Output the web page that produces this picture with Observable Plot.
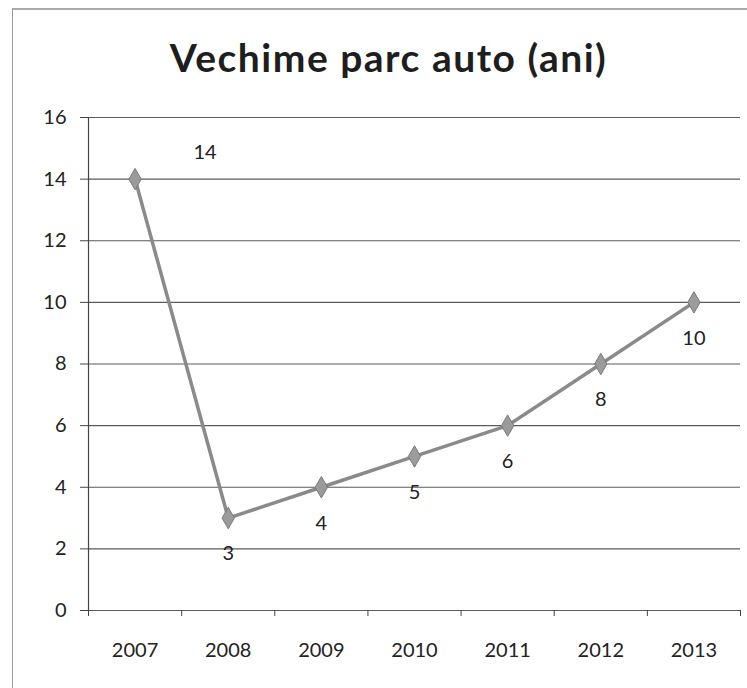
<!DOCTYPE html>
<html>
<head>
<meta charset="utf-8">
<script src="https://cdn.jsdelivr.net/npm/d3@7"></script>
<script src="https://cdn.jsdelivr.net/npm/@observablehq/plot@0.6"></script>
<style>
  html, body { margin: 0; padding: 0; background: #fff; }
  #wrap { position: relative; width: 747px; height: 688px; overflow: hidden; font-family: Lato, "Open Sans", sans-serif; }
  #frame { position: absolute; left: 12px; top: 8px; width: 760px; height: 700px; border-left: 1px solid #999; border-top: 2px solid #aaa; }
  #title { position: absolute; left: 0; width: 777px; top: 38px; text-align: center; font-size: 39px; line-height: 39px; letter-spacing: 1.5px; font-weight: bold; color: #1e1e1e; }
  #chart { position: absolute; left: 0; top: 0; }
</style>
</head>
<body>
<div id="wrap">
  <div id="frame"></div>
  <div id="chart"></div>
  <div id="title">Vechime parc auto (ani)</div>
</div>
<script>
const years = [2007, 2008, 2009, 2010, 2011, 2012, 2013];
const values = [14, 3, 4, 5, 6, 8, 10];
const yTicks = [0, 2, 4, 6, 8, 10, 12, 14, 16];

const data = years.map((year, i) => ({i, year, v: values[i]}));
const xc = d => d.i + 0.5;
const boundaries = d3.range(years.length + 1);
const centers = years.map((_, i) => i + 0.5);

const chart = Plot.plot({
  width: 747,
  height: 688,
  marginTop: 117,
  marginBottom: 78,
  marginLeft: 88,
  marginRight: 7,
  style: {fontFamily: "Lato, 'Open Sans', sans-serif", color: "#222", background: "transparent"},
  x: {type: "linear", domain: [0, years.length], label: null},
  y: {domain: [0, 16], label: null},
  marks: [
    Plot.ruleY(yTicks, {stroke: "#5a5a5a", strokeWidth: 1.2}),
    Plot.ruleX([0], {y1: 0, y2: 16, stroke: "#444", strokeWidth: 1.2}),
    Plot.axisY({ticks: yTicks, tickSize: 8, tickPadding: 14, fontSize: 20, stroke: "#444", label: null}),
    Plot.axisX({ticks: boundaries, tickSize: 6, tickFormat: () => "", stroke: "#444", label: null}),
    Plot.axisX({ticks: centers, tickSize: 0, tickPadding: 32, fontSize: 20, label: null, tickFormat: d => String(years[Math.floor(d)])}),
    Plot.line(data, {x: xc, y: "v", stroke: "#8a8a8a", strokeWidth: 3.5}),
    Plot.dot(data, {x: xc, y: "v", symbol: "diamond", r: 6.5, fill: "#9b9b9b", stroke: "#7a7a7a", strokeWidth: 1}),
    Plot.text(data.filter(d => d.i === 0), {x: xc, y: "v", text: d => String(d.v), dx: 70, dy: -27, fontSize: 20, fill: "#222"}),
    Plot.text(data.filter(d => d.i > 0), {x: xc, y: "v", text: d => String(d.v), dy: 36, fontSize: 20, fill: "#222"})
  ]
});
document.getElementById("chart").appendChild(chart);
</script>
</body>
</html>
